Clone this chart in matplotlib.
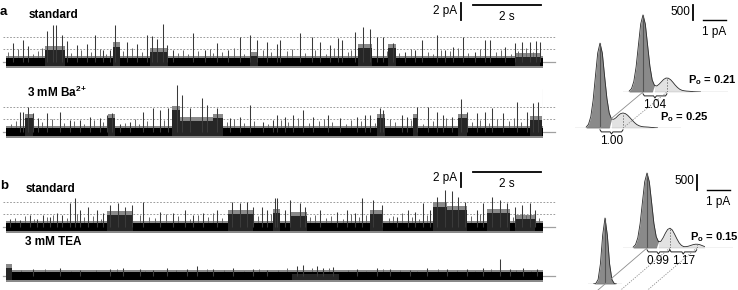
"""Single-channel records (standard vs 3 mM Ba2+ / 3 mM TEA) with amplitude histograms."""
import matplotlib
import numpy as np

matplotlib.use("Agg")
import matplotlib.pyplot as plt  # noqa: E402
from matplotlib.lines import Line2D  # noqa: E402

plt.rcParams["font.family"] = ["Liberation Sans", "DejaVu Sans"]
plt.rcParams["mathtext.fontset"] = "custom"
plt.rcParams["mathtext.rm"] = "Liberation Sans"
plt.rcParams["mathtext.bf"] = "Liberation Sans:bold"
plt.rcParams["mathtext.it"] = "Liberation Sans:italic"

W, H = 738, 290
DUR = 15.8          # s of record shown
PX_PER_S = 34.0
PX_PER_PA = 8.5
LEVEL = 1.5         # pA between dashed open levels
HX = 23.0           # histogram px per pA
HY = 0.03           # histogram px per count

# ---- traces: openings (s, pA), small flickers (s, pA), bursts (start s, end s, level pA)
A_STD_T = [0.21, 0.50, 0.65, 1.21, 1.38, 1.47, 1.65, 1.79, 2.09, 2.38,
           2.62, 2.85, 3.06, 3.21, 3.56, 3.85, 4.15, 4.29, 4.44, 4.62,
           4.74, 4.91, 5.50, 5.85, 6.21, 6.53, 6.88, 7.18, 7.38, 7.68,
           7.97, 8.06, 8.65, 9.00, 9.24, 9.53, 9.76, 9.88, 10.26, 10.50,
           10.71, 10.91, 11.09, 11.38, 11.74, 12.03, 12.24, 12.68, 12.91, 13.15,
           13.44, 13.79, 14.09, 14.24, 14.68, 14.97, 15.18, 15.41, 15.59, 15.71]
A_STD_H = [2.2, 2.6, 1.9, 3.6, 4.4, 4.4, 3.2, 2.5, 2.0, 2.1,
           3.2, 1.4, 1.4, 4.4, 2.4, 2.1, 3.2, 3.1, 2.7, 4.5,
           2.0, 1.4, 3.4, 1.4, 2.2, 1.4, 2.9, 3.2, 2.6, 2.4,
           2.1, 2.6, 3.4, 2.9, 2.4, 2.0, 2.8, 2.6, 3.5, 4.1,
           3.9, 2.9, 2.9, 2.2, 1.2, 1.4, 2.6, 3.2, 1.4, 1.8,
           2.9, 1.2, 2.6, 2.6, 1.8, 2.2, 2.4, 2.4, 2.5, 2.4]
A_STD_ST = [0.05, 0.35, 0.80, 0.95, 1.05, 1.90, 2.20, 2.50, 2.75, 2.95,
            3.45, 3.70, 4.00, 5.05, 5.20, 5.35, 5.65, 6.00, 6.10, 6.35,
            6.70, 7.00, 7.55, 7.80, 8.25, 8.40, 8.80, 9.10, 9.40, 9.65,
            10.05, 10.15, 11.20, 11.55, 11.90, 12.40, 12.55, 12.80, 13.05, 13.30,
            13.60, 13.95, 14.40, 14.55, 14.85, 15.05, 15.30, 15.50]
A_STD_SH = [1.2, 1.5, 1.0, 1.3, 1.6, 1.1, 1.4, 1.2, 1.5, 1.0,
            1.3, 1.6, 1.2, 1.1, 1.4, 1.0, 1.3, 1.5, 1.1, 1.2,
            1.6, 1.0, 1.4, 1.2, 1.3, 1.5, 1.1, 1.4, 1.0, 1.6,
            1.2, 1.4, 1.3, 1.1, 1.5, 1.2, 1.0, 1.4, 1.3, 1.6,
            1.1, 1.5, 1.2, 1.4, 1.0, 1.3, 1.6, 1.2]
A_STD_B0 = [1.15, 3.15, 4.24, 7.18, 10.35, 11.24, 14.97]
A_STD_B1 = [1.74, 3.35, 4.76, 7.41, 10.76, 11.47, 15.71]
A_STD_BL = [1.4, 1.8, 1.2, 0.7, 1.6, 1.6, 0.6]

A_BA_T = [0.41, 0.50, 0.65, 0.79, 0.94, 1.21, 1.59, 1.88, 2.18, 2.47,
          2.76, 2.97, 3.12, 3.35, 3.65, 4.03, 4.32, 4.53, 4.76, 5.03,
          5.18, 5.41, 5.76, 5.91, 6.21, 6.59, 6.88, 7.18, 7.56, 7.85,
          7.97, 8.21, 8.44, 8.74, 9.03, 9.47, 9.82, 10.32, 10.56, 10.71,
          11.00, 11.09, 11.65, 11.79, 12.09, 12.41, 12.68, 12.85, 13.12, 13.38,
          13.56, 13.85, 14.09, 14.29, 14.62, 15.03, 15.32, 15.50, 15.65, 15.79]
A_BA_H = [2.4, 2.4, 3.0, 2.2, 1.6, 2.2, 2.4, 1.4, 1.4, 1.8,
          1.6, 2.0, 2.2, 0.9, 1.2, 2.4, 2.8, 2.6, 2.8, 5.5,
          4.4, 2.8, 4.0, 3.2, 2.8, 1.6, 1.8, 3.2, 1.2, 1.4,
          2.0, 1.8, 2.0, 2.6, 1.8, 2.0, 1.6, 1.8, 2.0, 2.0,
          2.8, 2.6, 2.0, 1.8, 3.0, 3.0, 2.4, 2.0, 1.8, 3.9,
          2.4, 2.2, 2.4, 2.8, 2.2, 3.5, 2.4, 3.4, 3.5, 5.1]
A_BA_ST = [0.15, 0.30, 1.05, 1.35, 1.70, 2.00, 2.30, 2.60, 2.85, 3.50,
           3.80, 3.90, 4.15, 4.65, 6.50, 6.70, 7.00, 7.30, 7.70, 8.10,
           8.30, 8.60, 8.90, 9.20, 9.35, 9.60, 10.00, 10.15, 10.45, 10.85,
           11.30, 11.45, 11.90, 12.25, 12.55, 12.95, 13.70, 13.95, 14.20, 14.45,
           14.80, 14.95, 15.15]
A_BA_SH = [1.0, 1.3, 1.2, 1.5, 1.1, 1.3, 1.0, 1.4, 1.2, 1.1,
           1.5, 1.0, 1.3, 1.4, 1.2, 1.5, 1.1, 1.3, 1.0, 1.4,
           1.2, 1.6, 1.1, 1.3, 1.5, 1.2, 1.0, 1.4, 1.3, 1.1,
           1.5, 1.2, 1.4, 1.0, 1.3, 1.6, 1.2, 1.4, 1.1, 1.5,
           1.3, 1.6, 1.2]
A_BA_B0 = [0.56, 3.00, 4.88, 5.12, 6.09, 10.91, 11.97, 13.29, 15.41]
A_BA_B1 = [0.79, 3.21, 5.12, 6.09, 6.38, 11.15, 12.12, 13.56, 15.76]
A_BA_BL = [1.6, 1.6, 2.6, 1.3, 1.6, 1.6, 1.6, 1.6, 1.4]

B_STD_T = [0.12, 0.41, 0.71, 0.91, 1.09, 1.29, 1.50, 1.65, 1.88, 2.03,
           2.18, 2.41, 2.68, 2.85, 3.06, 3.29, 3.50, 3.71, 4.03, 4.53,
           4.91, 5.26, 5.50, 5.79, 6.21, 6.65, 6.88, 7.09, 7.26, 7.53,
           7.68, 7.91, 7.97, 8.21, 8.35, 8.65, 8.79, 9.24, 9.74, 10.03,
           10.26, 10.47, 10.79, 11.06, 11.50, 11.82, 12.03, 12.26, 12.47, 12.68,
           12.91, 13.12, 13.29, 13.50, 13.85, 14.03, 14.29, 14.53, 14.74, 14.97,
           15.18, 15.41, 15.56]
B_STD_H = [1.0, 0.8, 1.4, 1.0, 1.4, 1.2, 1.6, 1.4, 2.8, 3.4,
           2.0, 2.4, 2.0, 1.6, 2.6, 2.8, 2.4, 2.6, 2.9, 1.8,
           1.6, 2.0, 1.4, 1.6, 2.0, 2.9, 2.8, 2.9, 2.4, 2.4,
           2.0, 3.4, 3.4, 2.0, 3.2, 2.8, 2.4, 2.0, 1.8, 2.0,
           1.6, 3.4, 3.2, 2.6, 1.2, 2.0, 1.8, 2.8, 2.0, 3.5,
           4.4, 4.2, 3.5, 2.9, 2.0, 2.8, 3.5, 3.2, 2.8, 2.4,
           2.6, 2.8, 2.0]
B_STD_ST = [0.25, 0.55, 0.82, 1.20, 1.38, 1.78, 2.10, 2.30, 2.55, 2.78,
            3.95, 4.20, 4.38, 4.70, 5.05, 5.40, 5.65, 5.95, 6.10, 6.35,
            7.40, 7.78, 8.95, 9.10, 9.40, 9.55, 9.90, 10.15, 10.38, 10.60,
            11.25, 11.38, 11.65, 11.95, 12.15, 12.38, 13.68, 13.95, 14.90, 15.30,
            15.68]
B_STD_SH = [1.1, 1.3, 1.0, 1.2, 1.4, 1.1, 1.5, 1.2, 1.3, 1.0,
            1.4, 1.2, 1.1, 1.5, 1.3, 1.0, 1.4, 1.2, 1.6, 1.1,
            1.3, 1.5, 1.2, 1.4, 1.1, 1.3, 1.0, 1.5, 1.2, 1.4,
            1.1, 1.3, 1.6, 1.2, 1.0, 1.4, 1.3, 1.5, 1.2, 1.4,
            1.1]
B_STD_B0 = [2.97, 6.53, 7.85, 8.35, 10.71, 12.56, 12.97, 14.15, 14.97]
B_STD_B1 = [3.74, 7.26, 8.06, 8.85, 11.09, 12.97, 13.56, 14.82, 15.56]
B_STD_BL = [1.4, 1.5, 1.6, 1.3, 1.5, 2.4, 2.0, 1.6, 0.9]

TEA_T = [0.79, 1.59, 2.18, 3.06, 3.44, 3.94, 4.32, 4.74, 5.32, 5.62,
         6.09, 6.68, 7.26, 7.68, 8.56, 8.74, 9.15, 9.32, 9.62, 10.32,
         10.91, 11.29, 11.88, 12.38, 12.97, 13.56, 14.03, 14.53, 14.82, 15.21,
         15.62]
TEA_H = [0.8, 0.9, 0.7, 0.8, 0.9, 0.8, 0.7, 0.9, 0.8, 1.2,
         0.8, 0.9, 0.8, 0.7, 1.2, 1.3, 1.2, 1.0, 1.1, 0.8,
         0.9, 0.8, 0.7, 0.9, 0.8, 0.8, 0.9, 2.0, 0.8, 0.9,
         0.8]
TEA_ST = [0.45, 1.15, 1.90, 2.65, 3.25, 4.10, 5.00, 5.90, 6.40, 7.00,
          7.45, 8.00, 8.25, 9.00, 9.50, 10.05, 10.60, 11.10, 11.60, 12.10,
          12.70, 13.25, 13.80, 14.25, 15.00, 15.45]
TEA_SH = [0.7, 0.8, 0.6, 0.7, 0.8, 0.6, 0.7, 0.8, 0.7, 0.6,
          0.8, 0.7, 0.9, 1.0, 0.9, 0.7, 0.6, 0.8, 0.7, 0.6,
          0.8, 0.7, 0.6, 0.8, 0.7, 0.6]
TEA_B0 = [0.0, 8.4]
TEA_B1 = [0.18, 9.8]
TEA_BL = [0.9, 0.25]

# ---- amplitude histograms (counts per 0.1 pA bin, relative to closed level)
HIST_BINS = np.round(np.arange(-0.6, 2.55, 0.1), 2)
HIST_A_STD = [30, 110, 350, 840, 1560, 2270, 2570, 2270, 1560, 860,
              400, 220, 200, 260, 340, 420, 465, 460, 410, 325,
              230, 150, 90, 55, 40, 30, 25, 18, 10, 6, 3, 0]
HIST_A_BA = [30, 125, 380, 920, 1720, 2500, 2830, 2500, 1720, 990,
             500, 300, 290, 345, 425, 480, 500, 480, 425, 345,
             260, 180, 115, 75, 50, 40, 35, 30, 22, 15, 8, 3]
HIST_B_STD = [30, 110, 340, 810, 1520, 2210, 2500, 2210, 1520, 820,
              380, 210, 220, 340, 495, 620, 660, 600, 460, 305,
              170, 85, 45, 45, 60, 85, 110, 126, 125, 110, 80, 50]
HIST_B_TEA = [0, 0, 20, 150, 670, 1640, 2200, 1640, 670, 150,
              20, 0, 0, 0, 0, 0, 0, 0, 0, 0,
              0, 0, 0, 0, 0, 0, 0, 0, 0, 0, 0, 0]
UNIT_A_STD = [1.04]
UNIT_A_BA = [1.00]
UNIT_B_STD = [0.99, 1.17]
PO_A_STD, PO_A_BA, PO_B_STD = 0.21, 0.25, 0.15

DARK, LIGHT = "#8a8a8a", "#e2e2e2"

fig = plt.figure(figsize=(W / 100, H / 100), dpi=100)
fig.patch.set_facecolor("white")


def px_axes(left, top, right, bottom):
    ax = fig.add_axes([left / W, 1 - bottom / H, (right - left) / W, (bottom - top) / H])
    ax.set_axis_off()
    return ax


def ftext(x, y, s, **kw):
    fig.text(x / W, 1 - y / H, s, **kw)


def trace(base_px, t, h, st, sh, b0, b1, bl, dashed=True):
    ylo, yhi = -1.5, 6.5
    ax = px_axes(6, base_px - yhi * PX_PER_PA, 6 + DUR * PX_PER_S,
                 base_px - ylo * PX_PER_PA)
    ax.set_xlim(0, DUR)
    ax.set_ylim(ylo, yhi)
    ext = [-0.1, DUR + 0.35]
    ax.plot(ext, [0, 0], color="#a0a0a0", lw=0.9, clip_on=False, zorder=1)
    if dashed:
        for lv in (LEVEL, 2 * LEVEL):
            ax.plot(ext, [lv, lv], color="#8a8a8a", lw=0.6, ls=(0, (2, 2)),
                    clip_on=False, zorder=1)
    ax.fill_between([0, DUR], -0.7, 0.7, color="#8a8a8a", lw=0, zorder=2)
    ax.fill_between([0, DUR], -0.42, 0.42, color="k", lw=0, zorder=3)
    for t0, t1, lv in zip(b0, b1, bl):
        ax.fill_between([t0, t1], -0.7, lv + 0.5, color="#8a8a8a", lw=0, zorder=2)
        ax.fill_between([t0, t1], -0.42, lv, color="#262626", lw=0, zorder=3)
    ax.vlines(st, 0, sh, color="#666666", lw=0.7, zorder=2)
    ax.vlines(t, 0, h, color="#3a3a3a", lw=0.75, zorder=3)
    return ax


def scale_bars(ax, y0, bar_pa):
    # 2 pA / 2 s bars, anchored near the right end of the record
    ax.plot([13.38, 13.38], [y0, y0 + bar_pa], color="k", lw=1.3, clip_on=False)
    ax.plot([13.74, 15.74], [y0 + 1.8, y0 + 1.8], color="k", lw=1.3, clip_on=False)
    ax.text(13.28, y0 + 1.1, "2 pA", ha="right", va="center", fontsize=8.5)
    ax.text(14.74, y0 + 0.4, "2 s", ha="center", va="center", fontsize=8.5)


def hist_axes(center_px, base_px, xlo, xhi):
    ax = px_axes(center_px + xlo * HX, base_px - 3000 * HY,
                 center_px + xhi * HX, base_px)
    ax.set_xlim(xlo, xhi)
    ax.set_ylim(0, 3000)
    return ax


def draw_hist(ax, counts, split, opens):
    counts = np.asarray(counts, float)
    nz = np.nonzero(counts)[0]
    lo, hi = max(nz[0] - 1, 0), min(nz[-1] + 2, len(counts))
    x, y = HIST_BINS[lo:hi], counts[lo:hi]
    ax.fill_between(x, y, where=x <= split + 1e-9, color=DARK, lw=0, interpolate=True)
    ax.fill_between(x, y, where=x >= split - 1e-9, color=LIGHT, lw=0, interpolate=True)
    ax.plot(x, y, color="#2a2a2a", lw=0.6)
    ax.axhline(0, color="#1a1a1a", lw=0.8)
    ax.vlines(0, 0, counts.max(), color="#555555", lw=0.8)
    for xo in np.cumsum(opens):
        yo = np.interp(xo, HIST_BINS, counts)
        ax.vlines(xo, 0, yo, color="#777777", lw=0.7, ls=(0, (1.5, 1.5)))


def braces(ax, units):
    x = np.concatenate([[0], np.cumsum(units)])
    for x0, x1, u in zip(x[:-1], x[1:], units):
        xm = (x0 + x1) / 2
        ax.plot([x0, x0 + 0.06, xm - 0.06, xm, xm + 0.06, x1 - 0.06, x1],
                [-60, -130, -130, -200, -130, -130, -60],
                color="#222222", lw=0.7, clip_on=False)
        ax.text(xm, -420, f"{u:.2f}", ha="center", va="center", fontsize=8.5)


def link(front, back, xf, xb, ls, ext=0.0):
    p0 = front.transData.transform((xf, 0))
    p1 = back.transData.transform((xb, 0))
    p0 = p0 + (p0 - p1) * ext
    f0, f1 = fig.transFigure.inverted().transform([p0, p1])
    fig.add_artist(Line2D([f0[0], f1[0]], [f0[1], f1[1]], color="#8c8c8c",
                          lw=0.6, ls=ls))


def po_label(ax, x, y, po):
    ax.text(x, y, r"$\mathbf{P_{o}}$" + f" = {po:.2f}", fontsize=8,
            fontweight="bold", va="center", ha="left")


# ---- traces
ax_a1 = trace(62, A_STD_T, A_STD_H, A_STD_ST, A_STD_SH, A_STD_B0, A_STD_B1, A_STD_BL)
scale_bars(ax_a1, 4.9, 2.0)
trace(132, A_BA_T, A_BA_H, A_BA_ST, A_BA_SH, A_BA_B0, A_BA_B1, A_BA_BL)
ax_b1 = trace(227, B_STD_T, B_STD_H, B_STD_ST, B_STD_SH, B_STD_B0, B_STD_B1, B_STD_BL)
scale_bars(ax_b1, 4.7, 1.7)
trace(276, TEA_T, TEA_H, TEA_ST, TEA_SH, TEA_B0, TEA_B1, TEA_BL, dashed=False)

ftext(0, 12, "a", fontsize=9.5, fontweight="bold", va="center")
ftext(29, 15, "standard", fontsize=8.5, fontweight="bold", va="center")
ftext(27, 92, r"3 mM Ba$^{\mathbf{2{+}}}$", fontsize=8.5, fontweight="bold", va="center")
ftext(0, 186, "b", fontsize=9.5, fontweight="bold", va="center")
ftext(26, 189, "standard", fontsize=8.5, fontweight="bold", va="center")
ftext(25, 242, "3 mM TEA", fontsize=8.5, fontweight="bold", va="center")

# ---- histograms, panel a
ha_back = hist_axes(643, 92, -0.87, 3.7)
ha_front = hist_axes(600, 128, -1.1, 3.5)
draw_hist(ha_back, HIST_A_STD, 0.45, UNIT_A_STD)
draw_hist(ha_front, HIST_A_BA, 0.45, UNIT_A_BA)
braces(ha_back, UNIT_A_STD)
braces(ha_front, UNIT_A_BA)
po_label(ha_back, 1.96, 400, PO_A_STD)
po_label(ha_front, 2.6, 370, PO_A_BA)
link(ha_front, ha_back, 0, 0, "-")
link(ha_front, ha_back, UNIT_A_BA[0], UNIT_A_STD[0], (0, (1.5, 1.5)))

# ---- histograms, panel b
hb_back = hist_axes(647, 248, -1.04, 3.74)
hb_front = hist_axes(605, 284, -0.74, 0.74)
draw_hist(hb_back, HIST_B_STD, 0.45, UNIT_B_STD)
draw_hist(hb_front, HIST_B_TEA, 0.45, [])
braces(hb_back, UNIT_B_STD)
po_label(hb_back, 1.87, 370, PO_B_STD)
xs_b = np.concatenate([[0], np.cumsum(UNIT_B_STD)])
link(hb_front, hb_back, xs_b[0], xs_b[0], "-", ext=0.3)
for xb in xs_b[1:]:
    link(hb_front, hb_back, xb, xb, (0, (1.5, 1.5)), ext=0.3)

# 500 counts / 1 pA bars
for ax, yb in ((ha_back, 2400), (hb_back, 1950)):
    ax.plot([2.17, 2.17], [yb, yb + 500], color="k", lw=1.3, clip_on=False)
    ax.plot([2.6, 3.6], [yb, yb], color="k", lw=1.0, clip_on=False)
    ax.text(2.07, yb + 270, "500", ha="right", va="center", fontsize=8.5)
    ax.text(3.1, yb - 400, "1 pA", ha="center", va="center", fontsize=8.5)

fig.savefig("out.png", dpi=100, facecolor="white")
